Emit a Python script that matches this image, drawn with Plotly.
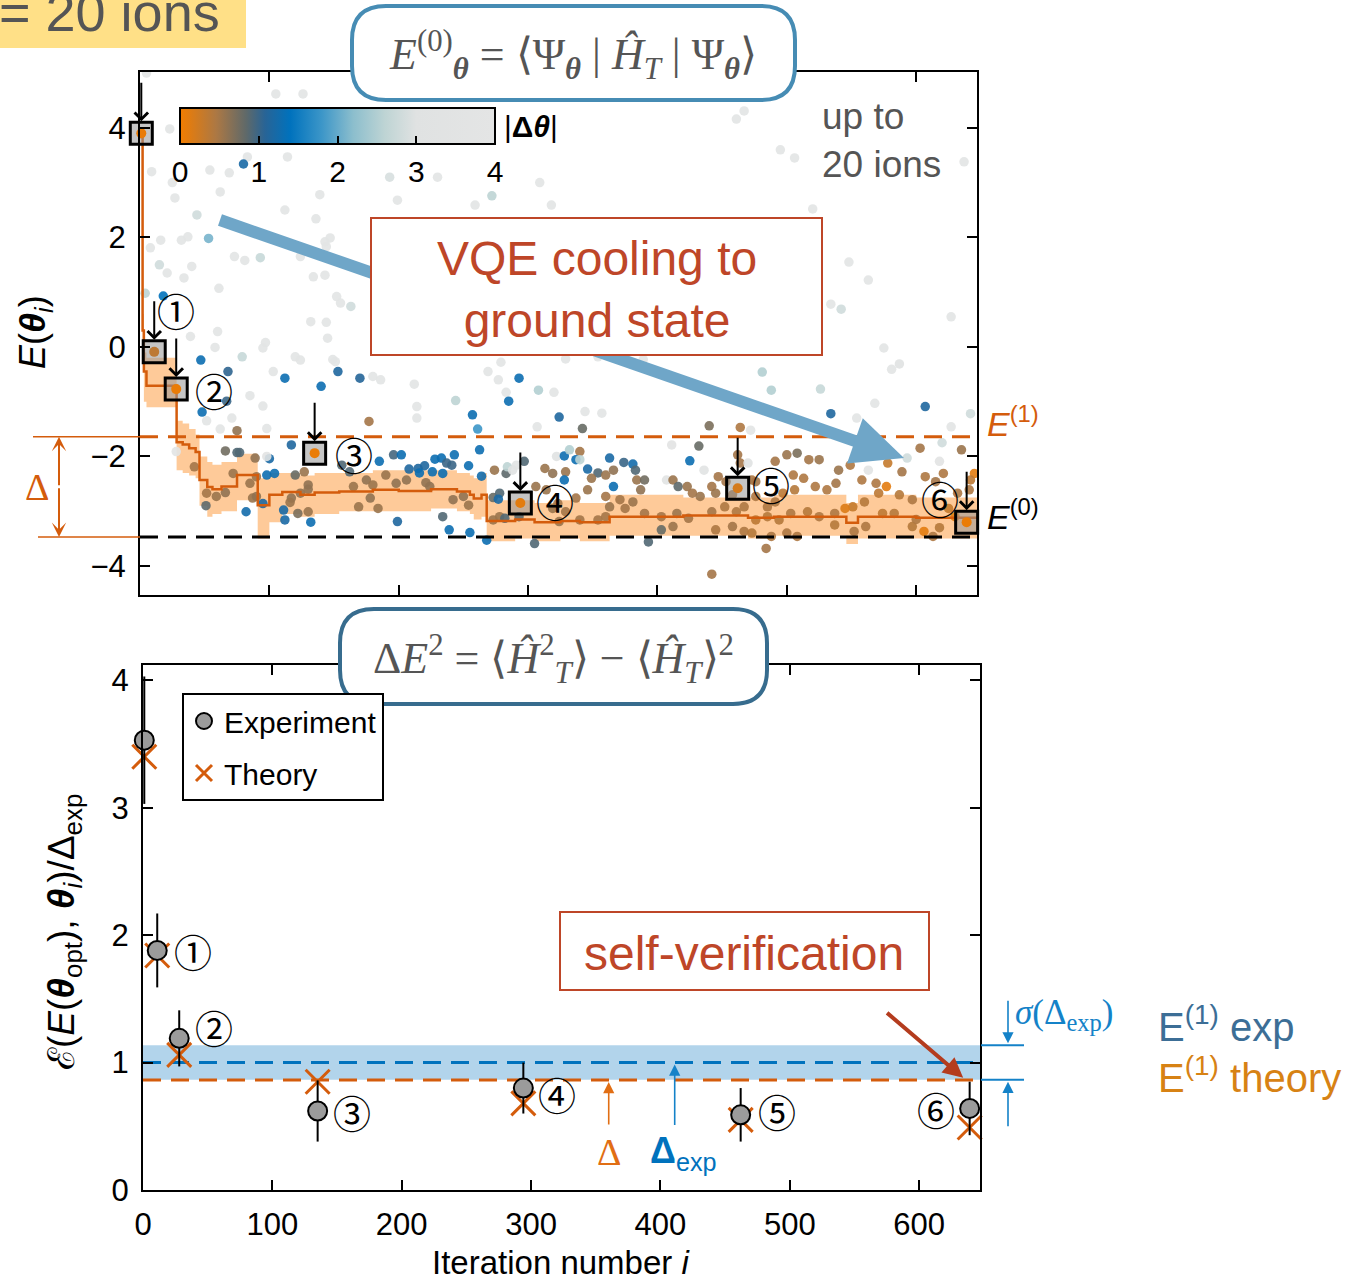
import math
import plotly.graph_objects as go

W, H = 1346, 1282
SANS = "Liberation Sans"
SERIF = "Liberation Serif"
CJK = "Noto Sans CJK JP"

# ---------------------------------------------------------------- data
# energy scan, points above E(1)  (iteration, energy, |dtheta|)
far_iter = [5, 105, 126, 23, 9, 54, 69, 25, 83, 80,
            114, 62, 27, 139, 193, 199, 230, 44, 53, 112,
            136, 8, 16, 32, 37, 15, 40, 21, 34, 73,
            81, 93, 143, 147, 144, 124, 134, 143, 61, 152,
            155, 163, 18, 4, 467, 461, 495, 506, 637, 309,
            272, 259, 318, 520, 548, 563, 60, 39, 132, 144,
            145, 97, 95, 58, 79, 47, 120, 124, 149, 151,
            68, 103, 112, 153, 140, 170, 180, 186, 212, 85,
            95, 48, 71, 98, 75, 62, 177, 214, 214, 244,
            257, 261, 269, 279, 277, 283, 293, 285, 308, 320,
            324, 307, 342, 357, 329, 354, 389, 440, 464, 481,
            488, 526, 534, 554, 581, 587, 607, 627, 642, 575,
            534, 542, 627, 521, 67, 51.5, 344, 568, 472]
far_energy = [5.0, 4.62, 4.62, 3.98, 3.2, 3.23, 3.18, 3.0, 3.47, 3.34,
              3.47, 2.83, 2.72, 2.78, 3.1, 2.68, 3.1, 2.41, 1.98, 2.5,
              2.34, 1.81, 1.95, 1.95, 2.01, 1.5, 1.47, 1.35, 1.26, 1.65,
              1.58, 1.63, 1.92, 1.99, 1.83, 1.65, 1.28, 1.31, 1.07, 0.92,
              0.8, 0.74, 0.93, 0.98, 4.31, 4.16, 3.6, 3.45, 3.38, 3.0,
              2.76, 2.59, 2.59, 2.52, 1.55, 1.22, 0.28, 0.19, 0.46, 0.45,
              0.16, 0.08, -0.02, -0.01, -0.18, -0.24, -0.18, -0.24, -0.23, -0.27,
              -0.45, -0.45, -0.57, -0.45, -0.72, -0.57, -0.54, -0.6, -0.68, -0.89,
              -1.08, -1.19, -1.3, -1.49, -1.53, -1.5, -1.36, -1.09, -1.3, -0.98,
              -1.24, -1.5, -0.45, -0.28, -0.6, -0.83, -0.57, -0.99, -0.79, -0.83,
              -1.28, -1.46, -1.49, -1.21, -0.22, -0.18, -0.23, -1.44, -1.47, -0.46,
              -0.79, -0.77, -1.22, -1.3, -0.41, -0.31, -1.09, -1.46, -1.22, -0.02,
              0.78, 0.69, 0.55, -0.01, -0.99, -1.35, -1.18, -1.03, -1.52]
far_dtheta = [3.6, 3.6, 3.6, 3.6, 3.6, 3.6, 3.6, 3.5, 3.6, 1.2,
              3.6, 3.6, 3.6, 3.5, 2.9, 3.6, 3.6, 2.8, 2.1, 3.6,
              3.6, 3.6, 3.6, 3.6, 3.6, 2.8, 3.6, 3.6, 3.6, 3.6,
              3.6, 2.7, 3.6, 3.6, 3.6, 3.6, 3.6, 3.6, 3.6, 3.6,
              3.5, 2.8, 1.4, 2.6, 3.6, 3.6, 3.6, 3.6, 3.6, 3.6,
              2.6, 3.6, 3.6, 3.6, 3.6, 3.6, 3.6, 3.6, 3.6, 3.6,
              3.6, 3.6, 3.6, 3.6, 2.7, 1.3, 3.6, 3.6, 3.6, 3.6,
              1.05, 3.6, 1.3, 1.15, 1.3, 1.1, 3.6, 3.6, 3.6, 3.6,
              3.6, 1.3, 3.6, 3.6, 0.6, 3.6, 0.5, 3.6, 3.6, 2.6,
              1.3, 1.8, 3.6, 3.6, 3.6, 3.6, 1.3, 1.3, 2.5, 3.6,
              1.15, 3.6, 0.8, 3.6, 3.6, 3.6, 3.6, 0.7, 0.45, 2.5,
              2.5, 2.7, 1.15, 3.6, 3.6, 3.0, 1.15, 3.6, 2.8, 3.6,
              3.6, 2.8, 3.6, 3.6, 1.0, 3.6, 3.6, 3.6, 3.6]

# energy scan, points below E(1)
near_iter = [28, 66, 75, 77, 89, 100, 98, 104, 117, 42,
             51.5, 59, 51, 66, 72, 82, 85, 90, 95, 111,
             112, 132, 117, 122, 130, 127, 130, 120, 156, 162,
             165, 175, 180, 169, 178, 184, 185, 196, 202, 208,
             190, 198, 206, 199, 215, 220, 216, 226, 234, 228,
             233, 243, 237, 241, 254, 262.5, 264, 221, 224, 234,
             239, 255, 242, 250, 254, 268, 273, 278, 273, 278,
             283, 284, 291, 305, 322, 313, 319, 324, 98, 87,
             90, 116, 124, 130, 277, 274, 288, 297, 328, 332,
             329, 340, 337, 340, 346, 354, 349, 363, 360, 366,
             374, 381, 383, 384, 366, 328, 314, 306, 323, 319,
             329, 337, 346, 360, 363, 371, 375, 381, 390, 387,
             407, 412, 416, 423, 425, 432, 411, 436, 447, 453,
             427, 433, 442, 445, 458, 462, 464, 470, 473, 476,
             476, 485, 491, 491, 500, 508, 517, 525, 505, 513,
             497, 506, 503, 516, 525, 522, 531, 538, 549, 540,
             558, 563, 569, 577, 578, 593, 589, 603, 607, 615,
             621, 618, 635, 645, 642, 641, 632, 597, 587, 606,
             613, 597, 583, 574, 551, 560, 571, 561, 552, 537,
             537, 545, 442, 452, 461, 467, 445, 458, 467, 473,
             476, 485, 494, 488, 500, 508, 484, 442, 393, 403,
             412, 390, 403, 415, 424, 282, 293, 340, 354, 360,
             620, 625, 630, 618, 600]
near_energy = [-1.91, -1.9, -1.93, -1.93, -2.03, -2.04, -2.34, -2.31, -1.79, -2.19,
               -2.67, -2.73, -2.9, -2.66, -2.31, -3.01, -2.49, -2.37, -2.86, -2.98,
               -3.16, -3.2, -2.76, -3.04, -3.01, -2.28, -2.52, -2.34, -2.16, -2.28,
               -2.55, -2.43, -2.52, -2.92, -2.76, -2.95, -2.09, -1.97, -1.97, -2.23,
               -2.34, -2.49, -2.43, -3.19, -2.22, -2.17, -2.3, -2.28, -2.31, -2.05,
               -2.03, -1.97, -2.12, -2.16, -2.17, -1.88, -2.36, -2.48, -2.55, -3.1,
               -3.34, -3.39, -2.79, -2.73, -2.89, -3.53, -3.16, -3.1, -2.75, -2.67,
               -2.31, -2.19, -2.16, -3.59, -2.0, -2.22, -2.31, -3.19, -2.0, -2.76,
               -2.73, -2.84, -2.67, -2.6, -2.78, -2.25, -2.25, -2.09, -1.99, -1.88,
               -2.28, -1.91, -2.06, -2.06, -2.23, -2.3, -2.4, -2.03, -2.34, -2.25,
               -2.11, -2.14, -2.25, -2.43, -2.55, -2.43, -2.61, -2.55, -2.86, -2.95,
               -3.01, -2.76, -2.61, -2.73, -2.92, -2.79, -2.95, -2.83, -2.43, -2.61,
               -2.43, -2.43, -2.55, -2.55, -2.08, -1.81, -1.79, -2.25, -2.37, -2.46,
               -2.67, -2.73, -2.55, -2.67, -2.7, -1.97, -2.12, -2.12, -2.43, -2.46,
               -2.73, -2.92, -2.83, -2.09, -1.97, -1.94, -2.06, -2.06, -2.34, -2.4,
               -2.67, -2.61, -3.04, -3.01, -3.1, -2.55, -2.61, -2.49, -2.16, -2.25,
               -2.43, -2.25, -2.49, -2.55, -2.12, -2.03, -2.28, -1.85, -2.37, -2.46,
               -2.31, -2.09, -1.88, -2.31, -2.43, -2.61, -2.67, -2.79, -2.7, -3.37,
               -3.46, -3.28, -3.04, -3.04, -2.92, -2.83, -2.67, -3.28, -3.37, -3.04,
               -3.25, -2.95, -3.01, -2.92, -3.01, -2.92, -3.34, -3.28, -3.37, -3.4,
               -3.16, -3.1, -3.16, -3.46, -3.4, -3.46, -3.68, -4.15, -3.56, -3.34,
               -3.28, -3.04, -3.1, -3.04, -3.13, -3.13, -3.1, -3.16, -3.16, -3.1,
               -1.75, -2.95, -3.1, -3.3, -3.15]
near_dtheta = [3.5, 0.75, 0.9, 0.9, 0.6, 1.2, 1.3, 1.3, 1.15, 0.5,
               0.5, 0.55, 0.85, 0.6, 0.55, 1.25, 0.55, 0.55, 1.15, 1.2,
               1.2, 1.3, 0.6, 0.7, 0.55, 0.55, 0.6, 0.8, 0.9, 0.9,
               0.55, 0.6, 0.55, 0.55, 0.6, 0.55, 1.3, 0.95, 1.3, 1.15,
               0.55, 0.6, 0.6, 1.15, 1.15, 1.15, 1.3, 1.3, 1.3, 1.3,
               1.3, 1.3, 1.0, 1.0, 1.3, 1.3, 1.25, 0.6, 0.6, 0.9,
               1.3, 1.3, 0.6, 0.6, 0.55, 1.3, 0.55, 0.55, 0.8, 0.9,
               0.85, 2.6, 3.2, 0.9, 3.0, 0.55, 0.6, 0.55, 3.4, 0.55,
               0.6, 0.55, 0.6, 0.6, 1.2, 0.55, 3.0, 0.9, 1.3, 2.5,
               0.55, 0.5, 1.3, 2.6, 1.2, 0.9, 0.55, 1.2, 0.55, 0.6,
               1.0, 1.25, 0.9, 0.55, 1.3, 1.3, 0.55, 0.55, 0.5, 0.55,
               0.5, 0.5, 0.55, 0.5, 0.55, 0.5, 0.5, 0.55, 0.75, 0.6,
               3.2, 0.55, 0.85, 0.55, 1.3, 0.8, 3.4, 3.3, 0.5, 0.5,
               0.5, 0.55, 0.5, 0.55, 0.5, 0.5, 0.5, 3.0, 0.45, 0.5,
               0.45, 0.45, 0.45, 0.5, 0.55, 0.7, 0.5, 0.55, 0.45, 0.45,
               0.35, 0.4, 0.45, 0.4, 0.45, 0.45, 0.45, 0.5, 0.45, 0.55,
               0.45, 3.3, 0.45, 0.1, 0.3, 2.8, 0.5, 0.5, 0.45, 0.5,
               0.45, 3.4, 0.55, 0.1, 0.35, 0.45, 0.45, 0.45, 0.4, 0.1,
               0.45, 0.4, 0.4, 0.35, 0.3, 0.4, 0.35, 0.45, 0.45, 0.45,
               0.4, 0.15, 0.5, 0.45, 0.45, 0.45, 0.45, 0.5, 0.45, 0.4,
               0.35, 0.4, 0.4, 0.45, 0.45, 0.45, 0.5, 0.5, 0.9, 0.8,
               0.55, 0.5, 0.5, 0.55, 0.5, 0.9, 0.85, 0.5, 0.5, 0.5,
               2.8, 0.3, 0.1, 0.4, 0.45]

# running best estimate (step line) and its uncertainty band
best_iter = [0, 2, 3, 5, 28.3, 33, 38, 43, 46, 52,
             56, 63, 75, 91, 100, 110, 124, 135, 154, 180,
             200, 225, 245, 255, 258, 264, 268, 290, 305, 325,
             340, 363, 420, 470, 490, 546, 555, 600, 647]
best_energy = [3.9, 0.3, -0.45, -0.71, -1.74, -1.78, -1.85, -1.92, -2.43, -2.56,
               -2.6, -2.55, -2.34, -2.89, -2.7, -2.65, -2.7, -2.66, -2.64, -2.61,
               -2.63, -2.6, -2.64, -2.7, -2.77, -2.7, -3.18, -3.15, -3.2, -3.18,
               -3.2, -3.1, -3.08, -3.12, -3.1, -3.21, -3.1, -3.12, -3.12]
band_upper = [4.0, 0.6, -0.1, -0.2, -1.35, -1.4, -1.5, -1.6, -2.0, -2.1,
              -2.15, -2.1, -1.95, -2.4, -2.3, -2.3, -2.35, -2.3, -2.3, -2.25,
              -2.25, -2.25, -2.3, -2.35, -2.4, -2.3, -2.8, -2.8, -2.85, -2.8,
              -2.85, -2.7, -2.75, -2.75, -2.7, -2.85, -2.7, -2.75, -2.75]
band_lower = [3.8, -0.2, -1.0, -1.1, -2.25, -2.3, -2.35, -2.4, -2.9, -3.1,
              -3.05, -3.0, -2.8, -3.5, -3.2, -3.05, -3.1, -3.05, -3.0, -3.0,
              -3.0, -2.95, -3.0, -3.05, -3.15, -3.1, -3.55, -3.5, -3.55, -3.5,
              -3.55, -3.45, -3.45, -3.5, -3.45, -3.6, -3.5, -3.5, -3.5]

# selected iterations (squares / self-verification)
sel_iter = [1, 11, 28, 135, 294, 462, 639]
sel_energy = [3.9, -0.09, -0.77, -1.94, -2.85, -2.58, -3.2]
sel_dtheta = [0.05, 0.35, 0.05, 0.05, 0.1, 0.2, 0.05]
sel_labels = ["", "①", "②", "③", "④", "⑤", "⑥"]

E1_level = -1.64
E0_level = -3.47

exp_val = [3.53, 1.88, 1.19, 0.62, 0.80, 0.59, 0.64]
exp_err = [0.5, 0.29, 0.22, 0.24, 0.20, 0.21, 0.21]
theory_val = [3.40, 1.84, 1.06, 0.85, 0.68, 0.55, 0.49]
delta_exp = 1.0
sigma_delta_exp = 0.135
delta_theory = 0.863

x_ticks = [0, 100, 200, 300, 400, 500, 600]
x_ticklabels = ["0", "100", "200", "300", "400", "500", "600"]
y1_ticks = [-4, -2, 0, 2, 4]
y1_ticklabels = ["\u22124", "\u22122", "0", "2", "4"]
y2_ticks = [0, 1, 2, 3, 4]
y2_ticklabels = ["0", "1", "2", "3", "4"]
cbar_ticks = [0, 1, 2, 3, 4]

X_RANGE = [0, 647]
Y1_RANGE = [-4.53, 5.02]
Y2_RANGE = [0, 4.12]

# ---------------------------------------------------------------- helpers
def PX(x):
    return x / W


def PY(y):
    return 1 - y / H


ORANGE = "rgb(212,92,12)"
BLUE = "rgb(0,114,189)"
RED = "rgb(190,70,40)"

colorscale = [
    [0.0, "rgb(242,125,0)"],
    [0.115, "rgb(172,120,68)"],
    [0.21, "rgb(95,105,105)"],
    [0.27, "rgb(40,100,150)"],
    [0.35, "rgb(0,114,189)"],
    [0.45, "rgb(60,150,200)"],
    [0.55, "rgb(140,190,205)"],
    [0.65, "rgb(190,212,212)"],
    [0.75, "rgb(224,226,226)"],
    [1.0, "rgb(228,229,229)"],
]

scan_iter = far_iter + near_iter
scan_energy = far_energy + near_energy
scan_dtheta = far_dtheta + near_dtheta
n = min(len(scan_iter), len(scan_energy), len(scan_dtheta))
scan_iter, scan_energy, scan_dtheta = scan_iter[:n], scan_energy[:n], scan_dtheta[:n]

fig = go.Figure()

# ---------------------------------------------------------------- top panel
fig.add_trace(go.Scatter(x=best_iter, y=band_lower, mode="lines",
                         line=dict(width=0, shape="hv"), showlegend=False,
                         hoverinfo="skip", xaxis="x", yaxis="y"))
fig.add_trace(go.Scatter(x=best_iter, y=band_upper, mode="lines",
                         line=dict(width=0, shape="hv"), fill="tonexty",
                         fillcolor="rgba(253,170,90,0.62)", showlegend=False,
                         hoverinfo="skip", xaxis="x", yaxis="y"))

fig.add_trace(go.Scatter(
    x=scan_iter, y=scan_energy, mode="markers", showlegend=False,
    xaxis="x", yaxis="y", cliponaxis=True,
    marker=dict(size=9.5, color=scan_dtheta, colorscale=colorscale, cmin=0, cmax=4,
                opacity=0.9, line=dict(width=0),
                colorbar=dict(orientation="h", x=PX(180), xanchor="left",
                              y=PY(108), yanchor="top", len=315, lenmode="pixels",
                              thickness=36, thicknessmode="pixels",
                              outlinewidth=2, outlinecolor="black",
                              tickvals=cbar_ticks, ticks="inside", ticklen=9,
                              tickwidth=2, tickcolor="black",
                              tickfont=dict(size=30, family=SANS, color="black"),
                              xpad=0, ypad=0, bgcolor="rgba(0,0,0,0)"))))

fig.add_trace(go.Scatter(x=[X_RANGE[0], X_RANGE[1]], y=[E1_level, E1_level], mode="lines",
                         line=dict(color=ORANGE, width=3, dash="18px,10px"),
                         showlegend=False, hoverinfo="skip", xaxis="x", yaxis="y"))
fig.add_trace(go.Scatter(x=[X_RANGE[0], X_RANGE[1]], y=[E0_level, E0_level], mode="lines",
                         line=dict(color="black", width=3, dash="18px,10px"),
                         showlegend=False, hoverinfo="skip", xaxis="x", yaxis="y"))

fig.add_trace(go.Scatter(x=best_iter, y=best_energy, mode="lines",
                         line=dict(color=ORANGE, width=2.5, shape="hv"),
                         showlegend=False, hoverinfo="skip", xaxis="x", yaxis="y"))

fig.add_trace(go.Scatter(x=sel_iter, y=sel_energy, mode="markers", cliponaxis=False,
                         marker=dict(symbol="square", size=22,
                                     color="rgba(150,150,150,0.55)",
                                     line=dict(color="black", width=3)),
                         showlegend=False, hoverinfo="skip", xaxis="x", yaxis="y"))
fig.add_trace(go.Scatter(x=sel_iter, y=sel_energy, mode="markers", cliponaxis=False,
                         marker=dict(size=10, color=sel_dtheta, colorscale=colorscale,
                                     cmin=0, cmax=4, showscale=False),
                         showlegend=False, hoverinfo="skip", xaxis="x", yaxis="y"))

# ---------------------------------------------------------------- bottom panel
for yv, col in [(delta_exp, BLUE), (delta_theory, ORANGE)]:
    fig.add_trace(go.Scatter(x=[X_RANGE[0], X_RANGE[1]], y=[yv, yv], mode="lines",
                             line=dict(color=col, width=3, dash="18px,10px"),
                             showlegend=False, hoverinfo="skip", xaxis="x2", yaxis="y2"))

fig.add_trace(go.Scatter(x=sel_iter, y=theory_val, mode="markers", name="Theory",
                         cliponaxis=False, legendrank=2, legendgroup="th",
                         marker=dict(symbol="x-thin", size=24,
                                     line=dict(color=ORANGE, width=3)),
                         xaxis="x2", yaxis="y2"))
fig.add_trace(go.Scatter(x=sel_iter, y=exp_val, mode="markers", name="Experiment",
                         cliponaxis=False, legendrank=1, legendgroup="exp",
                         error_y=dict(type="data", array=exp_err, color="black",
                                      thickness=2, width=0),
                         marker=dict(size=19, color="rgb(155,155,155)",
                                     line=dict(color="black", width=2)),
                         xaxis="x2", yaxis="y2"))

# ---------------------------------------------------------------- shapes
shapes = []

shapes.append(dict(type="rect", xref="paper", yref="paper", x0=PX(0), x1=PX(246),
                   y0=PY(48), y1=PY(0), fillcolor="rgb(255,224,135)",
                   line=dict(width=0), layer="above"))

shapes.append(dict(type="line", xref="paper", yref="y", x0=PX(33), x1=PX(140),
                   y0=E1_level, y1=E1_level, line=dict(color=ORANGE, width=1.5)))
shapes.append(dict(type="line", xref="paper", yref="y", x0=PX(38), x1=PX(140),
                   y0=E0_level, y1=E0_level, line=dict(color=ORANGE, width=1.5)))

# big blue arrow (behind the VQE box)
tail = (220, 220)
tip = (904, 458)
dx, dy = tip[0] - tail[0], tip[1] - tail[1]
L = math.hypot(dx, dy)
ux, uy = dx / L, dy / L
nx, ny = -uy, ux
head_len, head_half = 52, 24
bx, by = tip[0] - head_len * ux, tip[1] - head_len * uy
shapes.append(dict(type="line", xref="paper", yref="paper",
                   x0=PX(tail[0]), y0=PY(tail[1]), x1=PX(bx + 2 * ux), y1=PY(by + 2 * uy),
                   line=dict(color="rgb(111,166,200)", width=12), layer="above"))
p1 = (bx + head_half * nx, by + head_half * ny)
p2 = (bx - head_half * nx, by - head_half * ny)
shapes.append(dict(type="path", xref="paper", yref="paper",
                   path=f"M {PX(tip[0])},{PY(tip[1])} L {PX(p1[0])},{PY(p1[1])} "
                        f"L {PX(p2[0])},{PY(p2[1])} Z",
                   fillcolor="rgb(111,166,200)", line=dict(width=0), layer="above"))

shapes.append(dict(type="rect", xref="paper", yref="paper", x0=PX(371), x1=PX(822),
                   y0=PY(355), y1=PY(218), fillcolor="white",
                   line=dict(color=RED, width=2), layer="above"))
shapes.append(dict(type="rect", xref="paper", yref="paper", x0=PX(560), x1=PX(929),
                   y0=PY(990), y1=PY(912), fillcolor="white",
                   line=dict(color=RED, width=2), layer="above"))


def rounded(x0, y0, x1, y1, r):
    return (f"M {PX(x0 + r)},{PY(y0)} L {PX(x1 - r)},{PY(y0)} "
            f"Q {PX(x1)},{PY(y0)} {PX(x1)},{PY(y0 + r)} "
            f"L {PX(x1)},{PY(y1 - r)} Q {PX(x1)},{PY(y1)} {PX(x1 - r)},{PY(y1)} "
            f"L {PX(x0 + r)},{PY(y1)} Q {PX(x0)},{PY(y1)} {PX(x0)},{PY(y1 - r)} "
            f"L {PX(x0)},{PY(y0 + r)} Q {PX(x0)},{PY(y0)} {PX(x0 + r)},{PY(y0)} Z")


shapes.append(dict(type="path", xref="paper", yref="paper",
                   path=rounded(352, 6, 795, 100, 34), fillcolor="white",
                   line=dict(color="rgb(70,140,180)", width=4), layer="above"))
shapes.append(dict(type="path", xref="paper", yref="paper",
                   path=rounded(340, 609, 767, 704, 34), fillcolor="white",
                   line=dict(color="rgb(55,108,142)", width=4), layer="above"))

shapes.append(dict(type="rect", xref="x2 domain", yref="y2", x0=0, x1=1,
                   y0=delta_exp - sigma_delta_exp, y1=delta_exp + sigma_delta_exp,
                   fillcolor="rgba(0,114,189,0.3)", line=dict(width=0), layer="below"))
for yv in [delta_exp + sigma_delta_exp, delta_exp - sigma_delta_exp]:
    shapes.append(dict(type="line", xref="paper", yref="y2", x0=PX(981), x1=PX(1024),
                       y0=yv, y1=yv, line=dict(color="rgb(20,130,200)", width=2)))

# ---------------------------------------------------------------- annotations
ann = []


def text_ann(text, x, y, size, color, family=SANS, xanchor="center", yanchor="middle",
             xref="paper", yref="paper", **kw):
    d = dict(text=text, x=x, y=y, xref=xref, yref=yref, xanchor=xanchor,
             yanchor=yanchor, showarrow=False,
             font=dict(size=size, family=family, color=color))
    d.update(kw)
    ann.append(d)


text_ann("= 20 ions", PX(-3), PY(12), 54, "rgb(85,85,85)", xanchor="left")

text_ann("<i>E</i><sup>(0)</sup><sub><b><i>\u03b8</i></b></sub> = "
         "\u27e8\u03a8<sub><b><i>\u03b8</i></b></sub> | "
         "<i>\u0124</i><sub><i>T</i></sub> | "
         "\u03a8<sub><b><i>\u03b8</i></b></sub>\u27e9",
         PX(573), PY(55), 44, "rgb(85,85,85)", family=SERIF)
text_ann("\u0394<i>E</i><sup>2</sup> = \u27e8<i>\u0124</i><sup>2</sup><sub><i>T</i></sub>\u27e9"
         " \u2212 \u27e8<i>\u0124</i><sub><i>T</i></sub>\u27e9<sup>2</sup>",
         PX(553), PY(659), 44, "rgb(85,85,85)", family=SERIF)

text_ann("up to<br>20 ions", PX(820), PY(140), 37, "rgb(85,85,85)", xanchor="left",
         align="left")
text_ann("VQE cooling to<br>ground state", PX(597), PY(289), 48, RED)
text_ann("self-verification", PX(744), PY(953), 48, RED)

text_ann("|<b>\u0394<i>\u03b8</i></b>|", PX(502), PY(126), 30, "black", xanchor="left")

# axis titles
text_ann("<i>E</i>(<b><i>\u03b8</i></b><sub><i>i</i></sub>)", PX(35), PY(332), 36,
         "black", textangle=-90)
text_ann("\u2130(<i>E</i>(<b><i>\u03b8</i></b><sub>opt</sub>), "
         "<b><i>\u03b8</i></b><sub><i>i</i></sub>)/\u0394<sub>exp</sub>",
         PX(64), PY(932), 37, "black", textangle=-90)
text_ann("Iteration number <i>i</i>", PX(561), PY(1262), 33, "black")

# E(1), E(0) labels and Delta bracket
text_ann("<i>E</i><sup>(1)</sup>", PX(985), E1_level, 34, ORANGE, xanchor="left",
         yref="y", yshift=15)
text_ann("<i>E</i><sup>(0)</sup>", PX(985), E0_level, 34, "black", xanchor="left",
         yref="y", yshift=22)
ppu1 = (595 - 72) / (Y1_RANGE[1] - Y1_RANGE[0])
half_px = (E1_level - E0_level) * ppu1 / 2
ann.append(dict(text="", xref="paper", yref="y", x=PX(59), y=E1_level, ax=0, ay=half_px,
                showarrow=True, arrowhead=3, arrowsize=1.2, arrowwidth=2,
                arrowcolor=ORANGE, standoff=0))
ann.append(dict(text="", xref="paper", yref="y", x=PX(59), y=E0_level, ax=0, ay=-half_px,
                showarrow=True, arrowhead=3, arrowsize=1.2, arrowwidth=2,
                arrowcolor=ORANGE, standoff=0))
text_ann("\u0394", PX(37), (E1_level + E0_level) / 2, 38, ORANGE, family=SERIF, yref="y")

# arrows and numbers at selected iterations (top)
top_shift = [(0, 0), (22, 42), (38, 0), (39, 0), (35, 3), (33, 5), (-27, 25)]
for k in range(len(sel_iter)):
    ann.append(dict(text="", xref="x", yref="y", x=sel_iter[k], y=sel_energy[k],
                    ax=0, ay=-52, showarrow=True, arrowhead=4, arrowsize=1.3,
                    arrowwidth=2, arrowcolor="black", standoff=12))
    if sel_labels[k]:
        text_ann(sel_labels[k], sel_iter[k], sel_energy[k], 38, "black", family=CJK,
                 xref="x", yref="y", xshift=top_shift[k][0], yshift=top_shift[k][1])

# numbers at selected iterations (bottom)
bot_shift = [(0, 0), (36, 0), (35, 12), (34, 0), (34, -5), (36, 4), (-34, 0)]
for k in range(1, len(sel_iter)):
    text_ann(sel_labels[k], sel_iter[k], exp_val[k], 38, "black", family=CJK,
             xref="x2", yref="y2", xshift=bot_shift[k][0], yshift=bot_shift[k][1])

# Delta / Delta_exp arrows in bottom panel
ann.append(dict(text="", xref="x2", yref="y2", x=360, y=delta_theory, ax=0, ay=46,
                showarrow=True, arrowhead=2, arrowsize=1.4, arrowwidth=1.6,
                arrowcolor="rgb(225,110,20)", standoff=2))
ann.append(dict(text="", xref="x2", yref="y2", x=411, y=delta_exp, ax=0, ay=64,
                showarrow=True, arrowhead=2, arrowsize=1.4, arrowwidth=1.6,
                arrowcolor="rgb(20,130,200)", standoff=2))
text_ann("\u0394", 360, 0.30, 38, "rgb(225,110,20)", family=SERIF, xref="x2", yref="y2")
text_ann("<b>\u0394</b><sub>exp</sub>", 418, 0.29, 36, BLUE, xref="x2", yref="y2")

# right side sigma arrows and labels
ann.append(dict(text="", xref="paper", yref="y2", x=PX(1008),
                y=delta_exp + sigma_delta_exp, ax=0, ay=-46, showarrow=True,
                arrowhead=2, arrowsize=1.4, arrowwidth=1.6,
                arrowcolor="rgb(20,130,200)", standoff=2))
ann.append(dict(text="", xref="paper", yref="y2", x=PX(1008),
                y=delta_exp - sigma_delta_exp, ax=0, ay=48, showarrow=True,
                arrowhead=2, arrowsize=1.4, arrowwidth=1.6,
                arrowcolor="rgb(20,130,200)", standoff=2))
text_ann("<i>\u03c3</i>(\u0394<sub>exp</sub>)", PX(1013), PY(1014), 35,
         "rgb(20,130,200)", family=SERIF, xanchor="left")
text_ann("E<sup>(1)</sup> exp", PX(1156), PY(1024), 40, "rgb(60,110,150)", xanchor="left")
text_ann("E<sup>(1)</sup> theory", PX(1156), PY(1075), 40, "rgb(215,130,20)",
         xanchor="left")

# red self-verification arrow
ann.append(dict(text="", xref="x2", yref="y2", x=634, y=0.88, axref="x2", ayref="y2",
                ax=574, ay=1.40, showarrow=True, arrowhead=2, arrowsize=1,
                arrowwidth=4, arrowcolor="rgb(180,60,30)", standoff=0))

# ---------------------------------------------------------------- layout
axis_common = dict(showline=True, linewidth=2, linecolor="black", mirror="ticks",
                   ticks="inside", ticklen=10, tickwidth=2, tickcolor="black",
                   showgrid=False, zeroline=False, ticklabelstandoff=6,
                   automargin=False,
                   tickfont=dict(size=31, family=SANS, color="black"))

fig.update_layout(
    width=W, height=H, margin=dict(l=0, r=0, t=0, b=0, pad=0, autoexpand=False),
    paper_bgcolor="white", plot_bgcolor="white",
    font=dict(family=SANS, color="black"),
    xaxis=dict(domain=[PX(140), PX(977)], range=X_RANGE, anchor="y",
               tickvals=x_ticks, showticklabels=False, **axis_common),
    yaxis=dict(domain=[PY(595), PY(72)], range=Y1_RANGE, anchor="x",
               tickvals=y1_ticks, ticktext=y1_ticklabels, **axis_common),
    xaxis2=dict(domain=[PX(143), PX(980)], range=X_RANGE, anchor="y2",
                tickvals=x_ticks, ticktext=x_ticklabels, **axis_common),
    yaxis2=dict(domain=[PY(1190), PY(665)], range=Y2_RANGE, anchor="x2",
                tickvals=y2_ticks, ticktext=y2_ticklabels, **axis_common),
    legend=dict(x=PX(182), y=PY(693), xanchor="left", yanchor="top",
                bordercolor="black", borderwidth=2, bgcolor="white",
                traceorder="grouped",
                font=dict(size=30, family=SANS, color="black"),
                tracegroupgap=10, itemwidth=30),
    shapes=shapes, annotations=ann, showlegend=True,
)

fig.write_html("out.html", config={"displayModeBar": False},
               post_script="document.body.style.margin='0px';"
                           "document.documentElement.style.overflow='hidden';")
